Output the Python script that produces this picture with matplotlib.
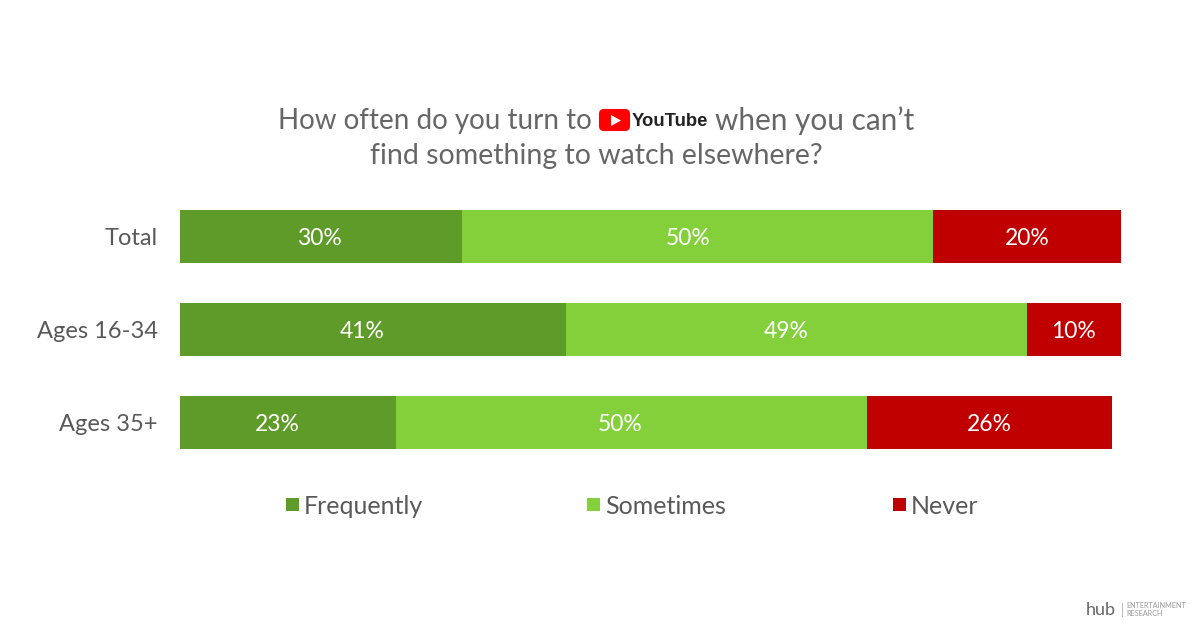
import matplotlib
matplotlib.use("Agg")
from matplotlib import pyplot as plt
from matplotlib.patches import FancyBboxPatch, Polygon, Rectangle
from matplotlib.transforms import Affine2D

groups = ["Total", "Ages 16-34", "Ages 35+"]
frequently = [30, 41, 23]
sometimes = [50, 49, 50]
never = [20, 10, 26]
series_names = ["Frequently", "Sometimes", "Never"]
series_colors = ["#5F9B29", "#83D03B", "#C00000"]

plt.rcParams["font.family"] = ["Lato", "DejaVu Sans"]
TEXT = "#595959"
TITLE = "#666666"

fig = plt.figure(figsize=(12, 6.25), dpi=100)
# reference pixels (y down) for everything placed outside the axes
px = Affine2D().scale(1 / 1200, -1 / 625).translate(0, 1) + fig.transFigure

# bars run from x=180 to x=1121 at 100%
ax = fig.add_axes([180 / 1200, 1 - 469 / 625, 941 / 1200, 279 / 625])
left = [0, 0, 0]
# the labels are not quite centred in the original, shift them by this many points
shifts = [[-1.5, -8, -8], [-7, -7, -8], [0, 0, 0]]
for values, name, color, shift in zip([frequently, sometimes, never], series_names, series_colors, shifts):
    bars = ax.barh(groups, values, left=left, height=0.575, color=color, label=name)
    for bar, v, dx in zip(bars, values, shift):
        ax.annotate(f"{v}%", (bar.get_x() + bar.get_width() / 2, bar.get_y() + bar.get_height() / 2),
                    xytext=(dx, -1.5), textcoords="offset points",
                    color="white", fontsize=16.5, ha="center", va="center")
    left = [a + b for a, b in zip(left, values)]

ax.set_xlim(0, 100)
ax.set_ylim(2.5, -0.5)
ax.xaxis.set_visible(False)
for spine in ax.spines.values():
    spine.set_visible(False)
ax.tick_params(axis="y", length=0, pad=16, labelsize=17, labelcolor=TEXT)

# title, with the logo sitting in the first line
fig.text(592 / 1200, 1 - 121 / 625, "How often do you turn to",
         fontsize=20, color=TITLE, ha="right", va="center")
fig.text(715 / 1200, 1 - 121 / 625, "when you can\u2019t",
         fontsize=21.4, color=TITLE, ha="left", va="center")
fig.text(596 / 1200, 1 - 156 / 625, "find something to watch elsewhere?",
         fontsize=20.5, color=TITLE, ha="center", va="center")

fig.add_artist(FancyBboxPatch((600, 110), 29, 20, boxstyle="round,pad=0,rounding_size=4",
                              facecolor="#FF0000", edgecolor="#FF0000", linewidth=1.5, transform=px))
fig.add_artist(Polygon([(611, 115), (611, 126), (621, 120.5)], closed=True, facecolor="white", transform=px))
fig.text(632 / 1200, 1 - 121 / 625, "YouTube", family=["Liberation Sans", "DejaVu Sans"],
         fontweight="bold", fontsize=13.3, color="#222222", ha="left", va="center")

# legend
for name, color, x in zip(series_names, series_colors, [286, 587, 893]):
    fig.add_artist(Rectangle((x, 498), 13, 13, facecolor=color, edgecolor="none", transform=px))
    fig.text((x + 18) / 1200, 1 - 506 / 625, name, fontsize=18, color=TEXT, ha="left", va="center")

# hub logo, bottom right
fig.text(1086 / 1200, 1 - 610 / 625, "hub", fontsize=13, color="#666666", ha="left", va="center")
fig.add_artist(Rectangle((1122, 603), 0.7, 14, facecolor="#BBBBBB", edgecolor="none", transform=px))
fig.text(1126 / 1200, 1 - 606 / 625, "ENTERTAINMENT", fontsize=5.2, color="#999999", ha="left", va="center")
fig.text(1126 / 1200, 1 - 614 / 625, "RESEARCH", fontsize=5.2, color="#999999", ha="left", va="center")

fig.savefig("out.png", dpi=100)
